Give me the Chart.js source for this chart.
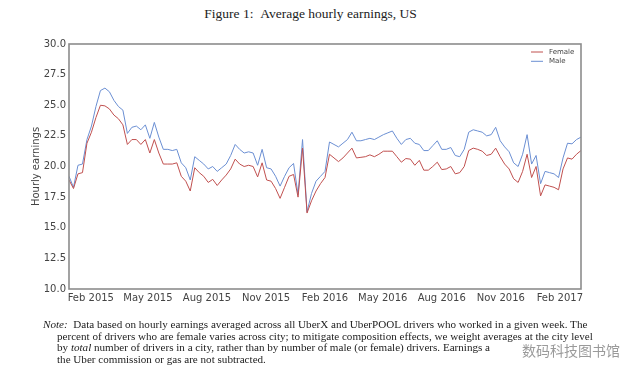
<!DOCTYPE html>
<html>
<head>
<meta charset="utf-8">
<script src="https://cdn.jsdelivr.net/npm/chart.js@4.4.1/dist/chart.umd.min.js"></script>
<style>
  body { margin: 0; background: #fff; }
  #wrap { position: relative; width: 641px; height: 376px; overflow: hidden; background: #fff; }
  #title { position: absolute; left: 0; width: 621px; top: 6px; text-align: center;
    font-family: "Liberation Serif", serif; font-size: 13.5px; color: #222; }
  #note { position: absolute; left: 43px; top: 319px; width: 570px;
    font-family: "Liberation Serif", serif; font-size: 11.1px; line-height: 11.7px; color: #222; }
  #note div { white-space: nowrap; }
  #note .ind { padding-left: 14px; }
  #mark { position: absolute; left: 522px; top: 343px; font-family: "Noto Sans CJK SC", sans-serif;
    font-size: 14px; line-height: 14px; color: #9a9a9a; }
  canvas { position: absolute; left: 0; top: 0; }
</style>
</head>
<body>
<div id="wrap">
  <div id="title">Figure 1: &nbsp;Average hourly earnings, US</div>
  <canvas id="earningsChart" width="641" height="376"></canvas>
  <div id="note">
    <div><i>Note:</i> &nbsp;Data based on hourly earnings averaged across all UberX and UberPOOL drivers who worked in a given week. The</div>
    <div class="ind">percent of drivers who are female varies across city; to mitigate composition effects, we weight averages at the city level</div>
    <div class="ind">by <i>total</i> number of drivers in a city, rather than by number of male (or female) drivers. Earnings a</div>
    <div class="ind">the Uber commission or gas are not subtracted.</div>
  </div>
  <div id="mark">数码科技图书馆</div>
</div>
<script>
// weekly series, first week starts 2014-12-29
var firstWeek = "2014-12-29";

var female = [
  18.9, 18.2, 19.4, 19.5, 21.9, 22.8, 24.0, 25.0, 24.95, 24.7,
  24.2, 23.9, 23.4, 21.8, 22.2, 22.2, 21.8, 22.2, 21.1, 22.2,
  21.1, 20.2, 20.2, 20.2, 20.3, 19.2, 18.8, 18.0, 19.9, 19.5,
  19.2, 18.7, 18.95, 18.45, 18.9, 19.3, 19.8, 20.6, 20.2, 20.0,
  20.1, 20.0, 19.15, 20.3, 18.9, 18.8, 18.2, 17.4, 18.3, 19.2,
  19.35, 17.5, 21.5, 16.2, 17.2, 18.0, 18.6, 19.1, 21.0, 20.7,
  20.4, 20.7, 21.1, 21.5, 20.7, 20.75, 20.8, 20.95, 20.8, 21.0,
  21.25, 21.25, 21.25, 20.8, 20.35, 20.65, 20.6, 20.1, 20.5, 19.7,
  19.7, 20.0, 20.35, 19.75, 19.8, 20.0, 19.4, 19.5, 20.0, 21.3,
  21.5, 21.4, 21.25, 20.9, 21.0, 21.5, 20.8, 20.2, 19.8, 19.0,
  18.7, 19.6, 21.0, 19.1, 20.0, 17.6, 18.5, 18.4, 18.3, 18.1,
  19.8, 20.7, 20.6, 21.0, 21.3
];

var male = [
  19.2, 18.3, 20.1, 20.2, 22.2, 23.3, 24.9, 26.2, 26.4, 26.1,
  25.4, 24.9, 24.6, 22.7, 23.2, 23.3, 23.0, 23.4, 22.3, 23.6,
  22.4, 21.4, 21.4, 21.3, 21.4, 20.3, 19.9, 18.9, 20.8, 20.5,
  20.2, 19.8, 20.0, 19.6, 19.9, 20.2, 20.9, 21.8, 21.4, 21.1,
  21.2, 21.1, 20.1, 21.4, 19.9, 19.8, 19.2, 18.4, 19.2, 19.9,
  20.25, 17.7, 22.2, 16.3, 17.8, 18.8, 19.2, 19.6, 22.0, 21.8,
  21.6, 21.9, 22.2, 22.8, 22.1, 22.1, 22.2, 22.3, 22.2, 22.4,
  22.6, 22.75, 22.9, 22.3, 21.8, 22.2, 22.3, 21.9, 21.8, 21.3,
  21.3, 21.7, 22.1, 21.4, 21.4, 21.55, 20.9, 20.8, 21.4, 22.8,
  23.0, 22.9, 22.8, 22.5, 22.6, 23.2, 22.1, 21.6, 21.2, 20.3,
  20.0, 21.0, 22.6, 20.2, 20.9, 18.6, 19.6, 19.5, 19.4, 19.1,
  20.7, 21.9, 21.85, 22.2, 22.4
];

var tickLabels = ["Feb 2015", "May 2015", "Aug 2015", "Nov 2015", "Feb 2016",
  "May 2016", "Aug 2016", "Nov 2016", "Feb 2017"];
var tickDates = ["2015-02-01", "2015-05-01", "2015-08-01", "2015-11-01", "2016-02-01",
  "2016-05-01", "2016-08-01", "2016-11-01", "2017-02-01"];

var yTicks = [10, 12.5, 15, 17.5, 20, 22.5, 25, 27.5, 30];

var femaleColor = "#c0504f";
var maleColor = "#6b8fd3";

function weekOf(d) {
  return (Date.parse(d) - Date.parse(firstWeek)) / (7 * 86400000);
}
var tickPos = tickDates.map(weekOf);

function toPoints(arr) {
  return arr.map(function (v, i) { return { x: i, y: v }; });
}

// frame + legend box drawn inside the plot, like the matplotlib figure
var framePlugin = {
  id: "frame",
  afterDraw: function (chart) {
    var ctx = chart.ctx;
    var a = chart.chartArea;
    ctx.save();
    ctx.strokeStyle = "#8c8c8c";
    ctx.lineWidth = 1.6;
    ctx.strokeRect(a.left, a.top, a.right - a.left, a.bottom - a.top);

    var items = [["Female", femaleColor], ["Male", maleColor]];
    ctx.font = "7px 'DejaVu Sans'";
    ctx.textBaseline = "middle";
    items.forEach(function (it, k) {
      var y = a.top + 8 + k * 9.3;
      ctx.strokeStyle = it[1];
      ctx.lineWidth = 1;
      ctx.beginPath();
      ctx.moveTo(a.right - 50, y);
      ctx.lineTo(a.right - 38, y);
      ctx.stroke();
      ctx.fillStyle = "#444";
      ctx.fillText(it[0], a.right - 32, y);
    });
    ctx.restore();
  }
};

var ctx = document.getElementById("earningsChart").getContext("2d");
var chart = new Chart(ctx, {
  type: "line",
  data: {
    datasets: [
      {
        label: "Female",
        data: toPoints(female),
        borderColor: femaleColor,
        borderWidth: 1,
        pointRadius: 0,
        tension: 0,
        fill: false
      },
      {
        label: "Male",
        data: toPoints(male),
        borderColor: maleColor,
        borderWidth: 1,
        pointRadius: 0,
        tension: 0,
        fill: false
      }
    ]
  },
  options: {
    responsive: false,
    animation: false,
    layout: { padding: { left: 30, right: 60, top: 44, bottom: 67 } },
    plugins: {
      legend: { display: false },
      tooltip: { enabled: false }
    },
    scales: {
      x: {
        type: "linear",
        min: 0,
        max: female.length - 1,
        grid: { display: false, drawTicks: false },
        border: { display: false },
        afterBuildTicks: function (axis) {
          axis.ticks = tickPos.map(function (p) { return { value: p }; });
        },
        afterFit: function (axis) { axis.height = 20; },
        ticks: {
          autoSkip: false,
          maxRotation: 0,
          padding: 3,
          color: "#444",
          font: { family: "DejaVu Sans", size: 10 },
          callback: function (v, i) { return tickLabels[i]; }
        }
      },
      y: {
        min: 10,
        max: 30,
        grid: { display: false, drawTicks: false },
        border: { display: false },
        afterBuildTicks: function (axis) {
          axis.ticks = yTicks.map(function (v) { return { value: v }; });
        },
        afterFit: function (axis) { axis.width = 39; },
        title: {
          display: true,
          text: "Hourly earnings",
          color: "#444",
          padding: { top: 0, bottom: 0 },
          font: { family: "DejaVu Sans", size: 10 }
        },
        ticks: {
          padding: 3,
          color: "#444",
          font: { family: "DejaVu Sans", size: 10 },
          callback: function (v) { return v.toFixed(1); }
        }
      }
    }
  },
  plugins: [framePlugin]
});
</script>
</body>
</html>
